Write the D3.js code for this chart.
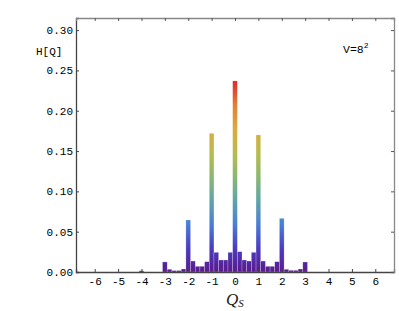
<!DOCTYPE html>
<html>
<head>
<meta charset="utf-8">
<script src="https://cdn.jsdelivr.net/npm/d3@7"></script>
<style>
  body { margin: 0; background: #fff; }
  svg { display: block; }
</style>
</head>
<body>
<div id="chart"></div>
<script>
// bin centres (width 0.2) and histogram heights
var qBins = [-4.0, -3.0, -2.8, -2.6, -2.4, -2.2, -2.0, -1.8, -1.6, -1.4, -1.2, -1.0,
             -0.8, -0.6, -0.4, -0.2, 0.0, 0.2, 0.4, 0.6, 0.8, 1.0,
             1.2, 1.4, 1.6, 1.8, 2.0, 2.2, 2.4, 2.6, 2.8, 3.0];
var hValues = [0.0015, 0.0125, 0.0034, 0.0018, 0.0018, 0.0037, 0.0645, 0.0136, 0.0071, 0.0071, 0.0128, 0.172,
               0.0244, 0.0149, 0.0149, 0.0244, 0.237, 0.0252, 0.0149, 0.0136, 0.0244, 0.170,
               0.0136, 0.0071, 0.0071, 0.0128, 0.0666, 0.0034, 0.0021, 0.0021, 0.0037, 0.0124];
var binWidth = 0.2;
var xTicks = [-6, -5, -4, -3, -2, -1, 0, 1, 2, 3, 4, 5, 6];
var yTicks = [0, 0.05, 0.10, 0.15, 0.20, 0.25, 0.30];
var rainbow = ["#5b1a8c", "#4a3cc2", "#4a7fd6", "#5ea6a8", "#8cb870", "#b8bc4c", "#dcaa3c", "#e57d35", "#db2a2a"];

var width = 399, height = 311;
var margin = {top: 18, right: 5, bottom: 39, left: 76};

var svg = d3.select("#chart").append("svg")
    .attr("width", width)
    .attr("height", height);

var x = d3.scaleLinear().domain([-6.8, 6.8]).range([margin.left, width - margin.right]);
var y = d3.scaleLinear().domain([0, 0.315]).range([height - margin.bottom, margin.top]);

// colour runs with the height, like the original bar colouring
var hMax = d3.max(hValues);
var grad = svg.append("defs").append("linearGradient")
    .attr("id", "rainbow")
    .attr("gradientUnits", "userSpaceOnUse")
    .attr("x1", 0).attr("x2", 0)
    .attr("y1", y(0)).attr("y2", y(hMax));
grad.selectAll("stop")
    .data(rainbow)
    .enter().append("stop")
    .attr("offset", function (d, i) { return i / (rainbow.length - 1); })
    .attr("stop-color", function (d) { return d; });

svg.selectAll("rect.bar")
    .data(qBins)
    .enter().append("rect")
    .attr("class", "bar")
    .attr("x", function (d) { return x(d - binWidth / 2); })
    .attr("width", function (d) { return x(d + binWidth / 2) - x(d - binWidth / 2); })
    .attr("y", function (d, i) { return y(hValues[i]); })
    .attr("height", function (d, i) { return y(0) - y(hValues[i]); })
    .style("fill", "url(#rainbow)")
    .style("stroke", "#ffffff")
    .style("stroke-opacity", 0.45)
    .style("stroke-width", 0.5);

var tickFont = "'Liberation Mono', 'DejaVu Sans Mono', monospace";

// frame: bottom/left with labels, top/right with ticks only
var xAxis = svg.append("g")
    .attr("transform", "translate(0," + y(0) + ")")
    .call(d3.axisBottom(x).tickValues(xTicks).tickSize(-3).tickPadding(5)
        .tickFormat(function (d) { return d3.format("d")(d).replace("\u2212", "-"); }));
var yAxis = svg.append("g")
    .attr("transform", "translate(" + margin.left + ",0)")
    .call(d3.axisLeft(y).tickValues(yTicks).tickSize(-3).tickPadding(3)
        .tickFormat(d3.format(".2f")));
var topAxis = svg.append("g")
    .attr("transform", "translate(0," + margin.top + ")")
    .call(d3.axisTop(x).tickValues(xTicks).tickSize(-3).tickFormat(""));
var rightAxis = svg.append("g")
    .attr("transform", "translate(" + (width - margin.right) + ",0)")
    .call(d3.axisRight(y).tickValues(yTicks).tickSize(-3).tickFormat(""));

[xAxis, yAxis].forEach(function (g) {
  g.select(".domain").attr("stroke", "#444").attr("stroke-width", 1.3);
  g.selectAll(".tick line").attr("stroke", "#444");
  g.selectAll("text")
    .style("font-family", tickFont)
    .style("font-size", "11px")
    .style("fill", "#000");
});
[topAxis, rightAxis].forEach(function (g) {
  g.select(".domain").attr("stroke", "#888").attr("stroke-width", 1.3);
  g.selectAll(".tick line").attr("stroke", "#555");
});

svg.append("text")
    .attr("x", 36).attr("y", 54.5)
    .style("font-family", tickFont)
    .style("font-size", "11px")
    .style("fill", "#000")
    .text("H[Q]");

var vLabel = svg.append("text")
    .attr("x", 343).attr("y", 53)
    .style("font-family", tickFont)
    .style("font-size", "11.5px")
    .style("fill", "#000")
    .text("V=8");
vLabel.append("tspan")
    .attr("dy", -5)
    .style("font-size", "8px")
    .text("2");

var qLabel = svg.append("text")
    .attr("x", 226).attr("y", 305)
    .style("font-family", "'Liberation Serif', 'DejaVu Serif', serif")
    .style("font-style", "italic")
    .style("font-size", "17px")
    .style("fill", "#222")
    .text("Q");
qLabel.append("tspan")
    .attr("dy", 1.5)
    .style("font-size", "11px")
    .text("S");
</script>
</body>
</html>
